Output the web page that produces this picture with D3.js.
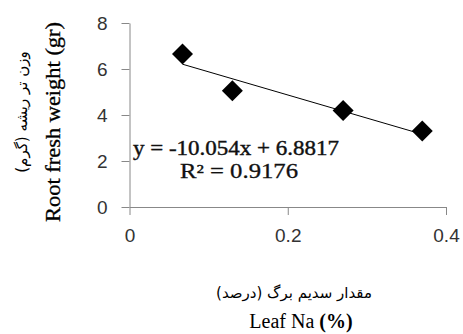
<!DOCTYPE html>
<html><head><meta charset="utf-8">
<script src="https://cdn.jsdelivr.net/npm/d3@7"></script>
<style>body{margin:0;background:#fff}svg{display:block}</style>
</head><body>
<svg id="c" width="463" height="334"></svg>
<script>
const leafNa = [0.067, 0.13, 0.27, 0.37];
const rootWeight = [6.65, 5.05, 4.2, 3.3];
const xTicks = [0, 0.2, 0.4];
const yTicks = [0, 2, 4, 6, 8];
const slope = -10.054, intercept = 6.8817;
const eqText = "y = -10.054x + 6.8817";
const r2Text = "R² = 0.9176";
const yTitleEn = "Root fresh weight (gr)";
const yTitleFa = "وزن تر ریشه (گرم)";
const xTitleFa = "مقدار سدیم برگ (درصد)";
const xTitleEn = "Leaf Na";

const svg = d3.select("#c");
const x = d3.scaleLinear().domain([0, 0.4]).range([129.5, 446]);
const y = d3.scaleLinear().domain([0, 8]).range([207, 23]);

const axisColor = "#888";
const gx = svg.append("g").attr("transform", `translate(0,${y(0)})`)
  .call(d3.axisBottom(x).tickValues(xTicks).tickFormat(d => d === 0 ? "0" : d3.format(".1f")(d)).tickSize(8).tickSizeOuter(0).tickPadding(14));
const gy = svg.append("g").attr("transform", `translate(${x(0)},0)`)
  .call(d3.axisLeft(y).tickValues(yTicks).tickSize(8).tickSizeOuter(0).tickPadding(14));
[gx, gy].forEach(g => {
  g.select(".domain").attr("stroke", axisColor);
  g.selectAll(".tick line").attr("stroke", axisColor);
  g.selectAll(".tick text").attr("fill", "#333").style("font-family", "Liberation Sans, Arial, sans-serif").style("font-size", "19px");
});

// trend line
const xr = d3.extent(leafNa);
svg.append("line")
  .attr("x1", x(xr[0])).attr("y1", y(slope * xr[0] + intercept))
  .attr("x2", x(xr[1])).attr("y2", y(slope * xr[1] + intercept))
  .attr("stroke", "#000").attr("stroke-width", 1);

// points
const sym = d3.symbol(d3.symbolSquare, 220);
svg.selectAll("path.pt").data(leafNa).join("path").attr("class", "pt")
  .attr("d", sym)
  .attr("transform", (d, i) => `translate(${x(d)},${y(rootWeight[i])}) rotate(45)`)
  .attr("fill", "#000");

const serif = "Liberation Serif, Times New Roman, serif";
svg.append("text").attr("x", 133).attr("y", 155).text(eqText)
  .style("font-family", serif).style("font-size", "20px")
  .attr("stroke", "#111").attr("stroke-width", 0.4)
  .attr("textLength", 206).attr("lengthAdjust", "spacingAndGlyphs").attr("fill", "#111");
svg.append("text").attr("x", 239).attr("y", 178).attr("text-anchor", "middle").text(r2Text)
  .style("font-family", serif).style("font-size", "20px")
  .attr("stroke", "#111").attr("stroke-width", 0.3)
  .attr("textLength", 118).attr("lengthAdjust", "spacingAndGlyphs").attr("fill", "#111");

svg.append("text").attr("transform", "translate(60,122) rotate(-90)").attr("text-anchor", "middle")
  .text(yTitleEn).style("font-family", serif).style("font-size", "20px")
  .attr("stroke", "#000").attr("stroke-width", 0.3)
  .attr("textLength", 200).attr("lengthAdjust", "spacingAndGlyphs").attr("fill", "#000");
svg.append("text").attr("transform", "translate(27,112) rotate(-90)").attr("text-anchor", "middle")
  .attr("direction", "rtl").text(yTitleFa).style("font-family", "DejaVu Sans, sans-serif").style("font-size", "15px").attr("fill", "#000");

svg.append("text").attr("x", 294).attr("y", 298).attr("text-anchor", "middle")
  .attr("direction", "rtl").text(xTitleFa).style("font-family", "DejaVu Sans, sans-serif").style("font-size", "15px").attr("fill", "#000");
const t = svg.append("text").attr("x", 301).attr("y", 328).attr("text-anchor", "middle")
  .style("font-family", serif).style("font-size", "20px").attr("fill", "#000");
t.append("tspan").text(xTitleEn + " ");
t.append("tspan").attr("font-weight", "bold").text("(%)");
</script>
</body></html>
